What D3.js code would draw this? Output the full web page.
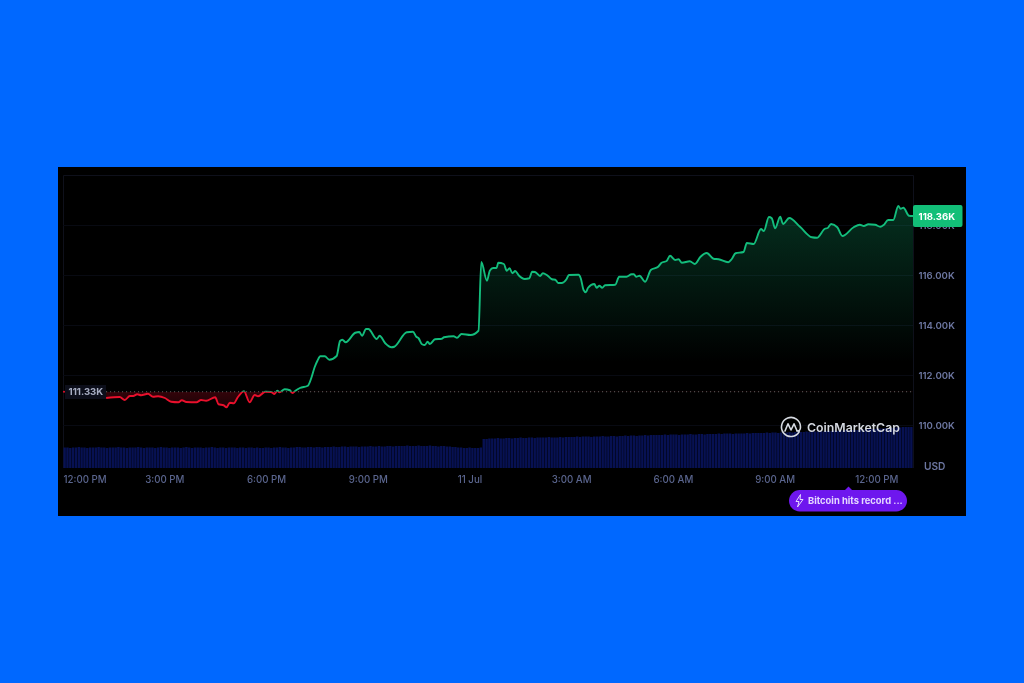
<!DOCTYPE html>
<html>
<head>
<meta charset="utf-8">
<script src="https://cdn.jsdelivr.net/npm/d3@7"></script>
<style>
  body { margin: 0; background: #0068ff; }
  svg { display: block; filter: blur(0.35px); }
  text { font-family: Inter, "Noto Sans", sans-serif; }
</style>
</head>
<body>
<script>
// Price samples: minutes since 12:00 PM on 10 Jul, price in thousands of USD
var minutes = [77,101,110,119,125,132,139,151,160,169,181,192,205,211,219,237,245,254,270,276,285,290,296,303,310,321,331,340,346,359,369,375,380,384,393,402,407,412,420,434,440,446,451,456,464,472,485,491,495,501,518,525,530,537,541,556,561,571,582,587,609,620,626,630,636,641,646,650,659,671,675,692,698,706,722,736,741,751,756,762,768,771,781,786,791,796,801,807,818,826,831,836,845,850,857,866,872,877,883,892,896,913,917,922,926,930,941,945,950,955,960,978,985,998,1007,1011,1015,1021,1031,1041,1054,1060,1069,1075,1084,1090,1096,1110,1119,1129,1140,1152,1161,1178,1184,1191,1205,1211,1223,1236,1241,1250,1255,1261,1270,1275,1286,1305,1326,1335,1349,1354,1360,1371,1380,1400,1411,1418,1426,1438,1447,1453,1461,1470,1479,1483,1488,1498,1505];
var prices = [111.08,111.12,111.00,111.16,111.16,111.23,111.19,111.25,111.13,111.15,111.08,110.93,110.91,110.99,110.92,110.91,111.00,110.97,111.11,110.83,110.79,110.71,110.89,110.87,111.11,111.35,110.91,111.20,111.15,111.33,111.32,111.24,111.37,111.31,111.43,111.39,111.28,111.37,111.48,111.57,111.87,112.31,112.57,112.75,112.75,112.61,112.76,113.36,113.41,113.31,113.69,113.72,113.57,113.84,113.84,113.44,113.57,113.27,113.11,113.13,113.71,113.73,113.53,113.47,113.23,113.20,113.33,113.24,113.43,113.45,113.51,113.55,113.49,113.64,113.60,113.77,116.52,115.77,116.17,116.28,116.28,116.49,116.44,116.17,116.27,116.07,116.16,115.99,115.84,115.87,116.13,116.12,115.96,116.07,116.00,115.83,115.81,115.68,115.68,115.84,116.00,116.01,115.87,115.40,115.31,115.49,115.64,115.49,115.57,115.49,115.59,115.61,115.93,115.93,116.03,116.03,115.93,115.97,115.73,116.20,116.33,116.49,116.56,116.77,116.60,116.63,116.49,116.55,116.44,116.73,116.88,116.65,116.63,116.51,116.63,116.87,116.92,117.28,117.24,117.84,117.76,118.32,118.27,117.87,118.33,118.04,118.28,117.93,117.51,117.49,117.85,117.88,118.04,117.91,117.56,117.91,118.01,117.96,118.03,118.01,117.93,118.00,118.20,118.20,118.76,118.65,118.69,118.37,118.36];

// Rolling volume, one bar per 5 minutes, billions of USD
var volumes = [
  41,41,40,41,41,42,41,41,40,41,41,41,42,41,41,40,41,41,41,42,41,41,40,41,41,41,42,41,40,41,
  41,41,40,41,42,41,41,40,41,41,41,40,41,42,41,40,41,41,41,40,41,41,42,41,40,41,41,40,41,41,
  41,40,41,41,40,41,41,40,41,40,40,41,41,40,41,41,42,41,41,40,41,41,42,42,41,41,42,42,41,42,
  42,41,42,42,42,43,42,42,43,43,42,43,43,43,42,43,43,43,44,43,43,44,43,43,44,44,43,44,44,44,
  44,45,44,44,44,45,44,44,44,45,44,44,43,44,44,43,43,42,42,41,41,40,40,41,40,40,40,41,
  58,58,59,59,59,60,59,59,60,60,59,60,
  60,61,60,60,61,61,60,61,61,61,61,62,61,61,61,62,61,62,62,62,
  62,63,62,63,63,63,62,63,63,63,64,63,63,64,64,63,64,64,65,64,65,65,64,65,65,66,65,66,66,66,
  66,66,67,66,67,67,67,66,67,67,67,68,67,67,68,68,67,68,68,68,68,69,68,69,69,69,68,69,69,69,
  69,70,69,70,70,70,70,70,71,70,71,71,70,71,71,71,72,71,72,72,72,72,73,72,73,73,73,74,73,74,
  74,74,75,74,75,75,76,75,76,76,76,77,77,77,78,78,78,79,79,79,80,80,80,81,81,81,82,82,82,82
];

var priceTicks = [110, 112, 114, 116, 118];
var timeTicks = [0, 180, 360, 540, 720, 900, 1080, 1260, 1440];
var timeLabels = ["12:00 PM", "3:00 PM", "6:00 PM", "9:00 PM", "11 Jul", "3:00 AM", "6:00 AM", "9:00 AM", "12:00 PM"];
var openPrice = 111.33;
var lastPrice = 118.36;

var green = "#13bd7c", red = "#e8102c";
var tickColor = "#6c76a0";

var svg = d3.select("body").append("svg")
    .attr("width", 1024)
    .attr("height", 683);

// Black chart panel on the blue page
svg.append("rect")
    .attr("x", 58).attr("y", 167)
    .attr("width", 908).attr("height", 349)
    .attr("fill", "#000");

// Define scales
var x = d3.scaleLinear().domain([0, 1505]).range([62.6, 913]);
var y = d3.scaleLinear().domain([110, 120]).range([425, 175]);
var xBar = d3.scaleBand().domain(d3.range(volumes.length)).range([63, 913]).padding(0.15);
var yBar = d3.scaleLinear().domain([0, 84]).range([468, 426]);

var points = minutes.map(function(m, i) { return { m: m, p: prices[i] }; });
var baseY = y(openPrice);

var defs = svg.append("defs");

var upFill = defs.append("linearGradient")
    .attr("id", "up-fill")
    .attr("gradientUnits", "userSpaceOnUse")
    .attr("x1", 0).attr("x2", 0)
    .attr("y1", y(119)).attr("y2", y(112.5));
upFill.append("stop").attr("offset", 0).attr("stop-color", green).attr("stop-opacity", 0.26);
upFill.append("stop").attr("offset", 1).attr("stop-color", green).attr("stop-opacity", 0);

var downFill = defs.append("linearGradient")
    .attr("id", "down-fill")
    .attr("gradientUnits", "userSpaceOnUse")
    .attr("x1", 0).attr("x2", 0)
    .attr("y1", baseY).attr("y2", y(110.6));
downFill.append("stop").attr("offset", 0).attr("stop-color", red).attr("stop-opacity", 0.22);
downFill.append("stop").attr("offset", 1).attr("stop-color", red).attr("stop-opacity", 0.1);

defs.append("clipPath").attr("id", "above").append("rect")
    .attr("x", 60).attr("y", 170).attr("width", 860).attr("height", baseY - 170);
defs.append("clipPath").attr("id", "below").append("rect")
    .attr("x", 60).attr("y", baseY).attr("width", 860).attr("height", 100);

// Frame and grid lines
svg.append("path")
    .attr("d", "M63.5,468V175.5H913.5V468")
    .attr("fill", "none")
    .attr("stroke", "#0e101b");

svg.selectAll(".grid-line")
    .data(priceTicks)
    .enter().append("line")
    .attr("class", "grid-line")
    .attr("x1", 63).attr("x2", 913)
    .attr("y1", function(d) { return y(d) + 0.5; })
    .attr("y2", function(d) { return y(d) + 0.5; })
    .attr("stroke", "#080a12");

// Volume bars
svg.selectAll(".bar")
    .data(volumes)
    .enter().append("rect")
    .attr("class", "bar")
    .attr("x", function(d, i) { return xBar(i); })
    .attr("y", function(d) { return yBar(d); })
    .attr("width", xBar.bandwidth())
    .attr("height", function(d) { return 468 - yBar(d); })
    .attr("fill", "#071152");

// Area and line, split at the opening price
var area = d3.area()
    .curve(d3.curveMonotoneX)
    .x(function(d) { return x(d.m); })
    .y0(baseY)
    .y1(function(d) { return y(d.p); });
var line = d3.line()
    .curve(d3.curveMonotoneX)
    .x(function(d) { return x(d.m); })
    .y(function(d) { return y(d.p); });

svg.append("path").datum(points).attr("d", area)
    .attr("fill", "url(#up-fill)").attr("clip-path", "url(#above)");
svg.append("path").datum(points).attr("d", area)
    .attr("fill", "url(#down-fill)").attr("clip-path", "url(#below)");

// Dotted line at the opening price
svg.append("line")
    .attr("x1", x(minutes[0])).attr("x2", 913)
    .attr("y1", baseY).attr("y2", baseY)
    .attr("stroke", "#6a6a6a")
    .attr("stroke-width", 1)
    .attr("stroke-dasharray", "1,3");

svg.append("path").datum(points).attr("d", line)
    .attr("fill", "none").attr("stroke", green).attr("stroke-width", 1.9)
    .attr("stroke-linejoin", "round").attr("clip-path", "url(#above)");
svg.append("path").datum(points).attr("d", line)
    .attr("fill", "none").attr("stroke", red).attr("stroke-width", 1.9)
    .attr("stroke-linejoin", "round").attr("clip-path", "url(#below)");

// Price axis
var yAxis = svg.append("g")
    .attr("transform", "translate(913,0)")
    .call(d3.axisRight(y).tickValues(priceTicks).tickSize(0).tickPadding(5.5)
        .tickFormat(function(d) { return d3.format(".2f")(d) + "K"; }));
yAxis.select(".domain").remove();
yAxis.selectAll("text")
    .style("font-family", "Inter")
    .style("font-size", "9.6px")
    .style("font-weight", 600)
    .attr("fill", tickColor);

svg.append("text")
    .attr("x", 924).attr("y", 469.5)
    .attr("fill", tickColor)
    .style("font-size", "10.2px")
    .style("font-weight", 600)
    .text("USD");

// Time axis
var xAxis = svg.append("g")
    .attr("transform", "translate(0,470)")
    .call(d3.axisBottom(x).tickValues(timeTicks).tickSize(0).tickPadding(6)
        .tickFormat(function(d, i) { return timeLabels[i]; }));
xAxis.select(".domain").remove();
xAxis.selectAll("text")
    .style("font-family", "Inter")
    .style("font-size", "9.7px")
    .style("font-weight", 500)
    .attr("fill", "#5a658e")
    .attr("dx", function(d) { return d === 0 ? 22 : 0; });

// Opening price tag
svg.append("rect")
    .attr("x", 65).attr("y", 385).attr("width", 41).attr("height", 14)
    .attr("fill", "#0c0e1a");
svg.append("circle")
    .attr("cx", 64).attr("cy", baseY).attr("r", 1)
    .attr("fill", red);
svg.append("text")
    .attr("x", 68.5).attr("y", baseY + 3.6)
    .attr("fill", "#a7adc2")
    .style("font-size", "9.6px")
    .style("font-weight", 700)
    .text(d3.format(".2f")(openPrice) + "K");

// Last price badge
svg.append("rect")
    .attr("x", 913).attr("y", 205).attr("width", 49.5).attr("height", 22).attr("rx", 2)
    .attr("fill", "#12bf78");
svg.append("text")
    .attr("x", 918.5).attr("y", y(lastPrice) + 3.6)
    .attr("fill", "#fff")
    .style("font-size", "9.6px")
    .style("font-weight", 700)
    .text(d3.format(".2f")(lastPrice) + "K");

// CoinMarketCap logo
var logo = svg.append("g")
    .attr("transform", "translate(791,427)")
    .attr("fill", "none")
    .attr("stroke", "#d5d9e0")
    .attr("stroke-width", 1.6)
    .attr("stroke-linecap", "round")
    .attr("stroke-linejoin", "round");
logo.append("path").attr("d", "M8.3,4.6A9.5,9.5,0,1,1,9.5,0C9.5,3,8,4.5,6,3.8");
logo.append("path").attr("d", "M-6,4L-3,-3.2L0,3L3,-3.2L6,3.8");
svg.append("text")
    .attr("x", 807).attr("y", 431.5)
    .attr("fill", "#d5d9e0")
    .style("font-size", "12.3px")
    .style("font-weight", 600)
    .text("CoinMarketCap");

// News pill
svg.append("path")
    .attr("d", "M845,490L848.5,486.5L852,490Z")
    .attr("fill", "#6e17ee");
svg.append("rect")
    .attr("x", 789).attr("y", 490).attr("width", 118).attr("height", 21.5).attr("rx", 10.75)
    .attr("fill", "#6e17ee");
svg.append("path")
    .attr("d", "M800.5,494.5L796,501.5H799L797.5,507L803,499.5H800Z")
    .attr("fill", "none")
    .attr("stroke", "#e4d8ff")
    .attr("stroke-width", 1);
svg.append("text")
    .attr("x", 808).attr("y", 504)
    .attr("fill", "#e4d8ff")
    .style("font-size", "9.4px")
    .style("font-weight", 700)
    .text("Bitcoin hits record ...");
</script>
</body>
</html>
